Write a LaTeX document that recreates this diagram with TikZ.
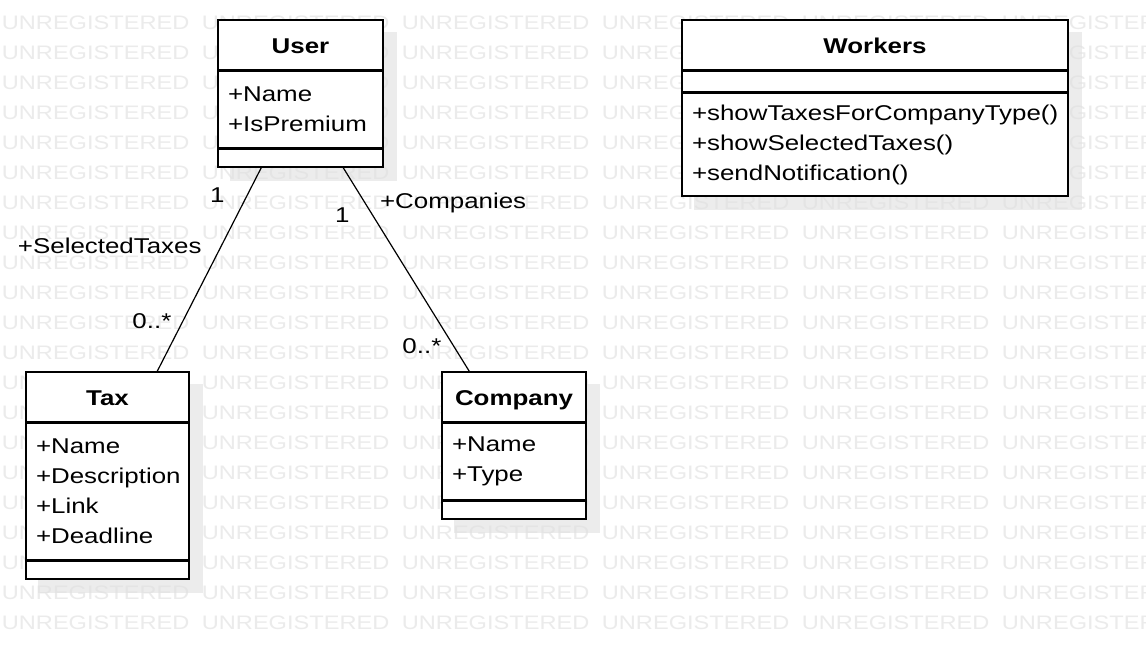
\documentclass[tikz,border=0pt]{standalone}
\usepackage{fontspec}
\setmainfont{Liberation Sans}[FakeStretch=1.21]
\usepackage{tikz}
\usetikzlibrary{positioning}
\newcommand{\classfont}{\fontsize{21.4}{30}\selectfont}
\tikzstyle{head} = [
  rectangle,
  minimum height=50pt,
  inner sep=0pt,
  text height=17pt,
  text depth=0pt,
  draw=black,
  line width=1.5pt,
  fill=white,
  font=\classfont\bfseries
]
\tikzstyle{members} = [
  rectangle,
  inner xsep=10pt,
  inner ysep=0pt,
  align=left,
  draw=black,
  line width=1.5pt,
  fill=white,
  font=\classfont
]
\tikzstyle{boxshadow} = [fill=black!12, fill opacity=0.6]
\tikzstyle{watermark} = [anchor=base west, inner sep=0pt, text=black!8, font=\fontsize{19.5}{19.5}\selectfont]
\tikzstyle{assoc} = [line width=1.2pt]
\tikzstyle{role} = [inner sep=0pt, font=\classfont]
\pgfdeclarelayer{background}
\pgfsetlayers{background,main}

\begin{document}
\begin{tikzpicture}[x=1pt, y=-1pt]
    \useasboundingbox (0,0) rectangle (1146,656);

    \node (user-head) [head, minimum width=165pt] at (300.5,45) {User};
    \node (user-attrs) [members, below=0pt of user-head, text width=145pt, minimum height=76pt] {+Name\\+IsPremium};
    \node (user-ops) [members, below=0pt of user-attrs, text width=145pt, minimum height=18pt] {};

    \node (workers-head) [head, minimum width=386pt] at (875,45) {Workers};
    \node (workers-attrs) [members, below=0pt of workers-head, text width=366pt, minimum height=20pt] {};
    \node (workers-ops) [members, below=0pt of workers-attrs, text width=366pt, minimum height=103pt] {+showTaxesForCompanyType()\\+showSelectedTaxes()\\+sendNotification()};

    \node (tax-head) [head, minimum width=163pt] at (107.5,397) {Tax};
    \node (tax-attrs) [members, below=0pt of tax-head, text width=143pt, minimum height=136pt] {+Name\\+Description\\+Link\\+Deadline};
    \node (tax-ops) [members, below=0pt of tax-attrs, text width=143pt, minimum height=18pt] {};

    \node (company-head) [head, minimum width=144pt] at (514,397) {Company};
    \node (company-attrs) [members, below=0pt of company-head, text width=124pt, minimum height=76pt] {+Name\\+Type};
    \node (company-ops) [members, below=0pt of company-attrs, text width=124pt, minimum height=18pt] {};

    \draw [assoc] ([xshift=44pt]user-ops.south west) --
      node[role, pos=0.136, anchor=east, xshift=-22pt] (tax-one) {1}
      node[role, pos=0.386, anchor=east, xshift=-19pt] (tax-role) {+SelectedTaxes}
      node[role, pos=0.753, anchor=east, xshift=-11pt] (tax-many) {0..*}
      ([xshift=132pt]tax-head.north west);
    \draw [assoc] ([xshift=126pt]user-ops.south west) --
      node[role, pos=0.234, anchor=east, xshift=-22.5pt] (company-one) {1}
      node[role, pos=0.172, anchor=west, xshift=14.6pt] (company-role) {+Companies}
      node[role, pos=0.877, anchor=east, xshift=-11.8pt] (company-many) {0..*}
      ([xshift=28pt]company-head.north west);

    \begin{pgfonlayer}{background}
      \fill[white] (0,0) rectangle (1146,656);
      \foreach \row in {0,...,20} {
        \foreach \col in {0,...,5} {
          \node (wm-\row-\col) [watermark] at (1.7+200*\col, 29+30*\row) {UNREGISTERED};
        }
      }
      \fill[boxshadow] ([shift={(13pt,-13pt)}]user-head.north west) rectangle ([shift={(13pt,-13pt)}]user-ops.south east);
      \fill[boxshadow] ([shift={(13pt,-13pt)}]workers-head.north west) rectangle ([shift={(13pt,-13pt)}]workers-ops.south east);
      \fill[boxshadow] ([shift={(13pt,-13pt)}]tax-head.north west) rectangle ([shift={(13pt,-13pt)}]tax-ops.south east);
      \fill[boxshadow] ([shift={(13pt,-13pt)}]company-head.north west) rectangle ([shift={(13pt,-13pt)}]company-ops.south east);
    \end{pgfonlayer}
  \end{tikzpicture}
\end{document}
